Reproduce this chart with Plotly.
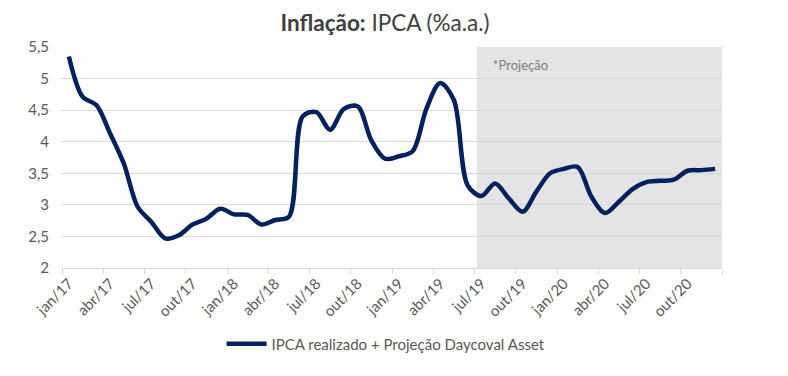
import plotly.graph_objects as go

months = ["jan", "fev", "mar", "abr", "mai", "jun", "jul", "ago", "set", "out", "nov", "dez"]
years = ["17", "18", "19", "20"]
categories = [f"{m}/{y}" for y in years for m in months]

ipca = [5.35, 4.71, 4.58, 4.13, 3.65, 2.97, 2.73, 2.47, 2.52, 2.69, 2.78, 2.94,
        2.85, 2.84, 2.69, 2.76, 2.81, 4.40, 4.47, 4.19, 4.52, 4.56, 4.02, 3.73,
        3.77, 3.85, 4.52, 4.93, 4.66, 3.31, 3.14, 3.34, 3.10, 2.89, 3.21, 3.50,
        3.57, 3.60, 3.13, 2.87, 3.05, 3.25, 3.36, 3.38, 3.40, 3.54, 3.55, 3.57]

y_ticks = [2, 2.5, 3, 3.5, 4, 4.5, 5, 5.5]
y_tick_text = ["2", "2,5", "3", "3,5", "4", "4,5", "5", "5,5"]
label_idx = list(range(0, 48, 3))
projection_start = "jul/19"

x = list(range(len(categories)))
font_family = "Lato, 'Open Sans', sans-serif"
text_color = "#595959"
grid = "#d9d9d9"

W, H = 780, 368  # page body has an 8px margin

fig = go.Figure()
fig.add_trace(go.Scatter(
    x=x, y=ipca, mode="lines",
    line=dict(color="#002060", width=4.5, shape="spline", smoothing=0.9),
    name="IPCA realizado + Projeção Daycoval Asset",
))

ps = categories.index(projection_start)
fig.add_shape(type="rect", xref="x", yref="y", x0=ps - 0.34, x1=len(categories) - 0.5,
              y0=2, y1=5.5, fillcolor="#e4e4e4", line=dict(width=0), layer="below")
fig.add_annotation(x=ps + 0.68, y=5.22, xref="x", yref="y", text="*Projeção",
                   showarrow=False, xanchor="left", yanchor="middle",
                   font=dict(family=font_family, size=13, color="#7f7f7f"))

fig.update_layout(
    width=W, height=H, autosize=False,
    margin=dict(l=54, r=66, t=39, b=108, autoexpand=False),
    paper_bgcolor="white", plot_bgcolor="rgba(0,0,0,0)",
    font=dict(family=font_family, color=text_color, size=14),
    title=dict(text="<b>Inflação:</b> IPCA (%a.a.)", x=(385 - 8) / W, xanchor="center",
               y=1 - 15 / H, yanchor="middle", yref="container",
               font=dict(family=font_family, size=22.5, color="#404040")),
    showlegend=True,
    legend=dict(orientation="h", x=(391 - 8) / W, xanchor="center", yref="container",
                y=1 - 336 / H, yanchor="middle",
                font=dict(family=font_family, size=15, color=text_color),
                itemwidth=40),
    xaxis=dict(range=[-0.5, len(categories) - 0.5], tickmode="array",
               tickvals=label_idx, ticktext=[categories[i] for i in label_idx],
               tickangle=-45, ticks="", showgrid=False, zeroline=False,
               showline=True, linecolor=grid, linewidth=1, automargin=False,
               tickfont=dict(size=15, color=text_color),
               minor=dict(tickmode="array",
                          tickvals=[i - 0.5 for i in range(0, len(categories) + 1, 3)],
                          ticks="outside", ticklen=5, tickcolor=grid, tickwidth=1,
                          showgrid=False)),
    yaxis=dict(range=[2, 5.5], tickmode="array", tickvals=y_ticks, ticktext=y_tick_text,
               showgrid=True, gridcolor=grid, gridwidth=1, zeroline=False,
               showline=False, ticks="", ticklabelstandoff=12, automargin=False,
               tickfont=dict(size=15, color=text_color)),
)

fig.write_html("out.html")
